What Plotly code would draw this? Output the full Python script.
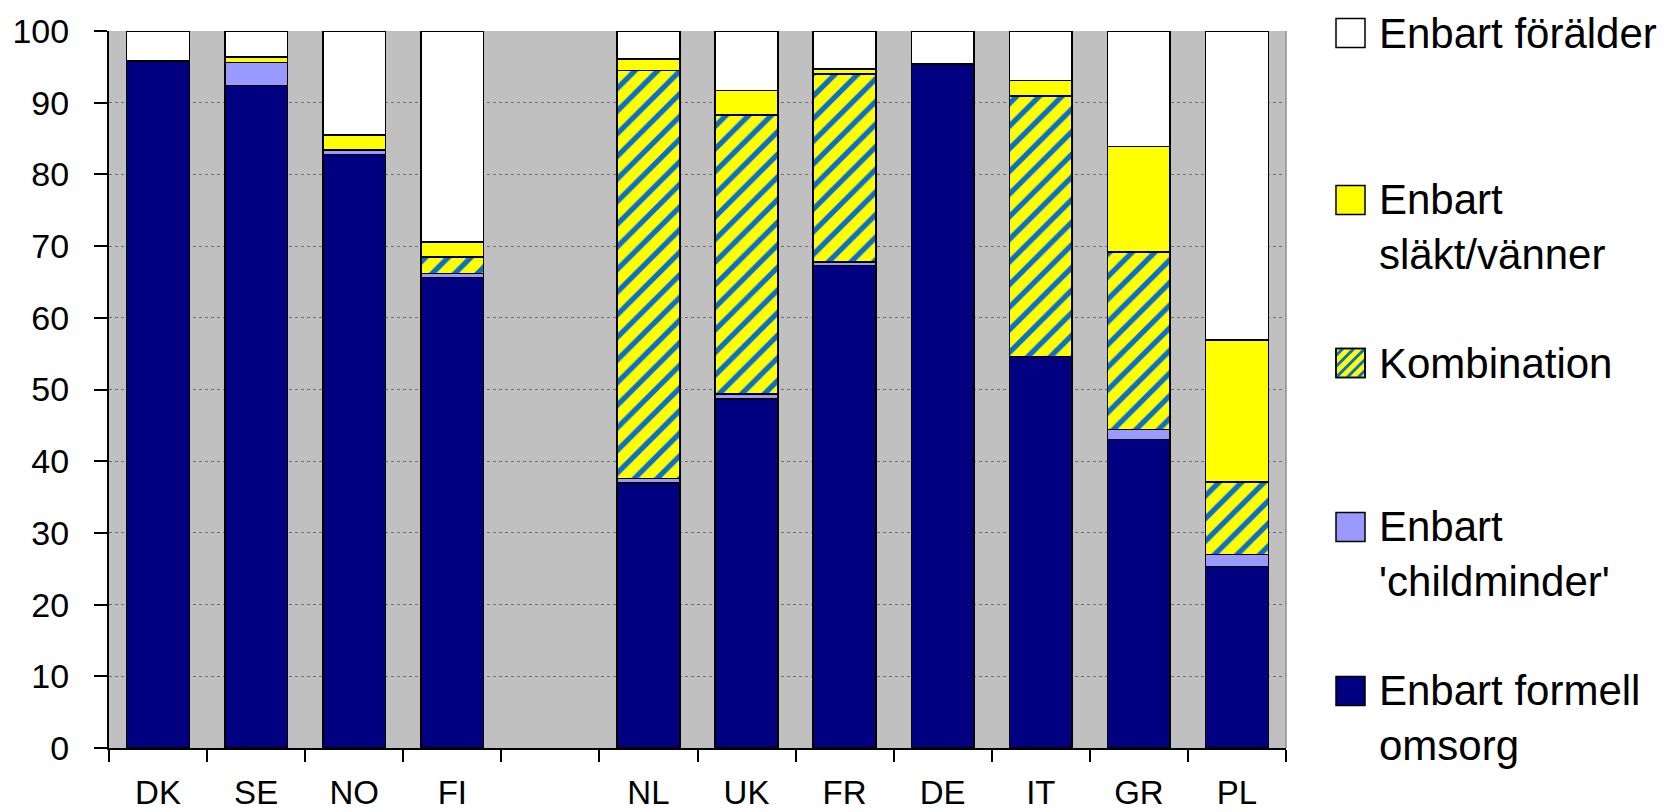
import plotly.graph_objects as go

countries = ["DK", "SE", "NO", "FI", " ", "NL", "UK", "FR", "DE", "IT", "GR", "PL"]

formell     = [95.8, 92.4, 82.8, 65.6, None, 37.0, 48.7, 67.3, 95.4, 54.6, 43.0, 25.3]
childminder = [0.0, 3.2, 0.6, 0.6, None, 0.6, 0.7, 0.5, 0.0, 0.0, 1.4, 1.7]
kombination = [0.0, 0.0, 0.0, 2.3, None, 56.9, 38.9, 26.2, 0.0, 36.3, 24.8, 10.1]
slakt       = [0.0, 0.8, 2.1, 2.1, None, 1.6, 3.4, 0.7, 0.0, 2.2, 14.7, 19.8]
foralder    = [4.2, 3.6, 14.5, 29.4, None, 3.9, 8.3, 5.3, 4.6, 6.9, 16.1, 43.1]

series_names = ["Enbart formell<br>omsorg", "Enbart<br>'childminder'", "Kombination",
                "Enbart<br>släkt/vänner", "Enbart förälder"]
series_vals = [formell, childminder, kombination, slakt, foralder]
series_colors = ["#000080", "#9999FF", "#FFFF00", "#FFFF00", "#FFFFFF"]

FONT = "Arial, Liberation Sans, sans-serif"
W, H = 1679, 812
PL, PR, PT, PB = 101, 1278, 23, 740


def px(x):
    return (x - PL) / (PR - PL)


def py(y):
    return (PB - y) / (PB - PT)


fig = go.Figure()
for name, vals, col in zip(series_names, series_vals, series_colors):
    marker = dict(color=col, line=dict(color="black", width=1.6))
    if name == "Kombination":
        marker["pattern"] = dict(shape="/", bgcolor="#FFFF00", fgcolor="#0A6FC8",
                                 size=16, solidity=0.33, fillmode="replace")
    fig.add_trace(go.Bar(x=countries, y=vals, name=name, marker=marker,
                         showlegend=False))

fig.update_layout(
    width=W, height=H,
    barmode="stack", bargap=0.36,
    plot_bgcolor="#C0C0C0", paper_bgcolor="white",
    margin=dict(l=PL, r=W - PR, t=PT, b=H - PB, autoexpand=False),
    font=dict(family=FONT, color="black", size=33),
)
fig.update_xaxes(
    type="category", categoryorder="array", categoryarray=countries,
    tickson="boundaries", ticks="outside", ticklen=12, tickwidth=1.5, tickcolor="black",
    showline=True, linecolor="black", linewidth=2, showgrid=False,
    tickfont=dict(size=33, family=FONT, color="black"),
    ticklabelstandoff=14, automargin=False,
)
fig.update_yaxes(
    range=[0, 100], dtick=10, tick0=0,
    ticks="outside", ticklen=13, tickwidth=1.5, tickcolor="black",
    showline=True, linecolor="black", linewidth=2,
    showgrid=True, gridcolor="#6F6F6F", griddash="dot", gridwidth=1,
    zeroline=False,
    tickfont=dict(size=34, family=FONT, color="black"),
    ticklabelstandoff=18, automargin=False,
)

# right border of plot area
fig.add_shape(type="line", xref="paper", yref="paper", x0=1, x1=1, y0=0, y1=1,
              line=dict(color="#909090", width=1.5))

# custom legend (large swatches)
leg_names = ["Enbart förälder", "Enbart<br>släkt/vänner", "Kombination",
             "Enbart<br>'childminder'", "Enbart formell<br>omsorg"]
leg_colors = ["#FFFFFF", "#FFFF00", "#FFFF00", "#9999FF", "#000080"]
leg_lines = [1, 2, 1, 2, 2]
leg_y = [25, 192, 355, 519, 683]
sx0, sx1 = 1328, 1357
half = 14.5
LINE_H = 54
for name, col, nl, yc in zip(leg_names, leg_colors, leg_lines, leg_y):
    fig.add_shape(type="rect", xref="paper", yref="paper",
                  x0=px(sx0), x1=px(sx1), y0=py(yc + half), y1=py(yc - half),
                  fillcolor=col, line=dict(color="black", width=1.5), layer="above")
    if name == "Kombination":
        s = sx1 - sx0
        for c in [-22, -11, 0, 11, 22]:
            u0, u1 = max(0, -c), min(s, s - c)
            if u1 - u0 < 2:
                continue
            xa, xb = sx0 + u0, sx0 + u1
            ya, yb = (yc + half) - (u0 + c), (yc + half) - (u1 + c)
            fig.add_shape(type="line", xref="paper", yref="paper",
                          x0=px(xa), x1=px(xb), y0=py(ya), y1=py(yb),
                          line=dict(color="#0A6FC8", width=3), layer="above")
        fig.add_shape(type="rect", xref="paper", yref="paper",
                      x0=px(sx0), x1=px(sx1), y0=py(yc + half), y1=py(yc - half),
                      fillcolor="rgba(0,0,0,0)", line=dict(color="black", width=1.5),
                      layer="above")
    ymid = yc + (nl - 1) * LINE_H / 2
    fig.add_annotation(text=name, xref="paper", yref="paper",
                       x=px(1369), y=py(ymid), xanchor="left", yanchor="middle",
                       align="left", showarrow=False,
                       font=dict(size=42, family=FONT, color="black"))

fig.write_html("out.html")
